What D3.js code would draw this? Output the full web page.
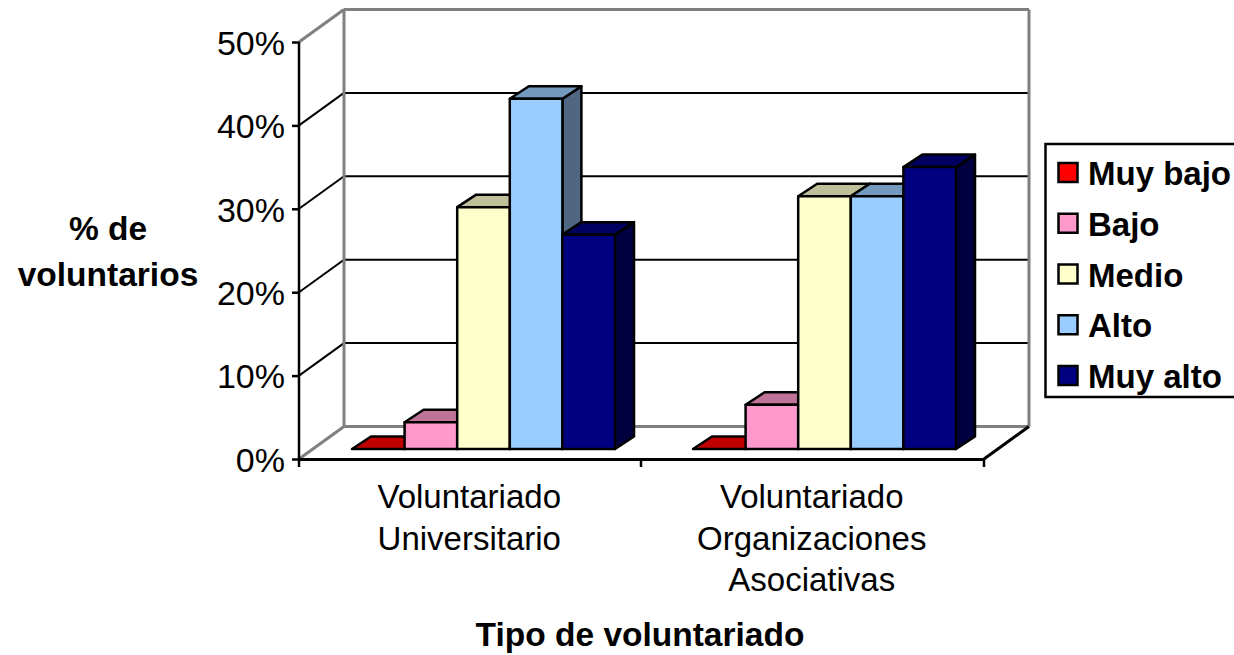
<!DOCTYPE html>
<html><head><meta charset="utf-8">
<script src="https://cdnjs.cloudflare.com/ajax/libs/d3/7.8.5/d3.min.js"></script>
<style>html,body{margin:0;padding:0;background:#fff}svg{display:block}text{font-family:"Liberation Sans",Arial,sans-serif;fill:#000}</style>
</head><body><svg id="c" width="1234" height="655"></svg>
<script>
const categories = [["Voluntariado","Universitario"],["Voluntariado","Organizaciones","Asociativas"]];
const seriesNames = ["Muy bajo","Bajo","Medio","Alto","Muy alto"];
const muyBajo = [0,0];
const bajo = [3.2,5.3];
const medio = [29,30.3];
const alto = [42,30.3];
const muyAlto = [25.7,33.8];
const yTicks = [0,10,20,30,40,50];
const colors = ["#FF0000","#FF99CC","#FFFFCC","#99CCFF","#000080"];
const topColors = ["#C00000","#BF7399","#BFBF99","#7399BF","#000060"];
const sideColors = ["#800000","#805066","#808066","#4F6780","#000040"];
const allSeries = [muyBajo,bajo,medio,alto,muyAlto];

const svg = d3.select("#c");
const y = d3.scaleLinear().domain([0,50]).range([459,42]);
const x = d3.scaleBand().domain([0,1]).range([299,984]);
const wall = {dx:45,dy:-32.5};
const floorShift = {dx:14,dy:-10};
const depth = {dx:19,dy:-12.5};
const xBars = d3.scaleBand().domain([0,1]).range([299+14,984+11]);
const barW = 52.6;
const wl = (x1,y1,x2,y2,c,w)=>svg.append("line").attr("x1",x1).attr("y1",y1).attr("x2",x2).attr("y2",y2).attr("stroke",c).attr("stroke-width",w||2.5);

// back wall + grid
yTicks.forEach(t=>{
  const edge = t===0||t===50;
  wl(299+wall.dx,y(t)+wall.dy,984+wall.dx,y(t)+wall.dy,edge?"#808080":"#000",edge?3:2);
  wl(299,y(t),299+wall.dx,y(t)+wall.dy,edge?"#808080":"#000",edge?3:2);
});
wl(299+wall.dx,y(0)+wall.dy,299+wall.dx,y(50)+wall.dy,"#808080",3);
wl(984+wall.dx,y(0)+wall.dy,984+wall.dx,y(50)+wall.dy,"#808080",3);
wl(984,y(0),984+wall.dx,y(0)+wall.dy,"#000",3);

// bars
categories.forEach((c,ci)=>{
  const cx = xBars(ci)+xBars.bandwidth()/2;
  allSeries.forEach((s,si)=>{
    const x0 = cx-2.5*barW+si*barW, x1=x0+barW;
    const by = y(0)+floorShift.dy, ty = by-(y(0)-y(s[ci]));
    const pts=a=>a.map(p=>p.join(",")).join(" ");
    const g = svg.append("g").attr("stroke","#000").attr("stroke-width",2.5).attr("stroke-linejoin","round");
    g.append("polygon").attr("points",pts([[x1,ty],[x1+depth.dx,ty+depth.dy],[x1+depth.dx,by+depth.dy],[x1,by]])).attr("fill",sideColors[si]);
    g.append("polygon").attr("points",pts([[x0,ty],[x0+depth.dx,ty+depth.dy],[x1+depth.dx,ty+depth.dy],[x1,ty]])).attr("fill",topColors[si]);
    g.append("rect").attr("x",x0).attr("y",ty).attr("width",barW).attr("height",by-ty).attr("fill",colors[si]);
  });
});

// axes
const ya = d3.axisLeft(y).tickValues(yTicks).tickSize(7).tickFormat(d=>d+"%");
const yg = svg.append("g").attr("transform","translate(299,0)").call(ya);
yg.select(".domain").attr("stroke","#000").attr("stroke-width",2.5).attr("d","M0,42V459");
yg.selectAll(".tick line").attr("stroke","#000").attr("stroke-width",2.5);
yg.selectAll(".tick text").attr("x",-14).attr("dy",".36em").style("font-size","34px").style("font-family",'"Liberation Sans",Arial,sans-serif');

const xa = d3.axisBottom(x).tickValues([]).tickSizeOuter(0);
const xg = svg.append("g").attr("transform","translate(0,459)").call(xa);
xg.select(".domain").attr("stroke","#000").attr("stroke-width",3);
[299,641,984].forEach(v=>wl(v,459,v,467,"#000",2.5));

categories.forEach((c,ci)=>{
  const cx = x(ci)+x.bandwidth()/2-1;
  c.forEach((t,i)=>svg.append("text").attr("x",cx).attr("y",508+i*41.5).attr("text-anchor","middle").style("font-size","33px").text(t));
});

svg.append("text").attr("x",640).attr("y",646).attr("text-anchor","middle").style("font-size","33.5px").style("font-weight","bold").text("Tipo de voluntariado");
svg.append("text").attr("x",108).attr("y",240).attr("text-anchor","middle").style("font-size","33.5px").style("font-weight","bold").text("% de");
svg.append("text").attr("x",108).attr("y",286).attr("text-anchor","middle").style("font-size","33.5px").style("font-weight","bold").text("voluntarios");

// legend
svg.append("rect").attr("x",1045.5).attr("y",144).attr("width",190).attr("height",253).attr("fill","#fff").attr("stroke","#000").attr("stroke-width",2.5);
const ly = d3.scalePoint().domain(seriesNames).range([173,376]);
seriesNames.forEach((n,i)=>{
  svg.append("rect").attr("x",1058.5).attr("y",ly(n)-10).attr("width",19).attr("height",19).attr("fill",colors[i]).attr("stroke","#000").attr("stroke-width",2.5);
  svg.append("text").attr("x",1088).attr("y",ly(n)+12).style("font-size","33px").style("font-weight","bold").text(n);
});
</script></body></html>
